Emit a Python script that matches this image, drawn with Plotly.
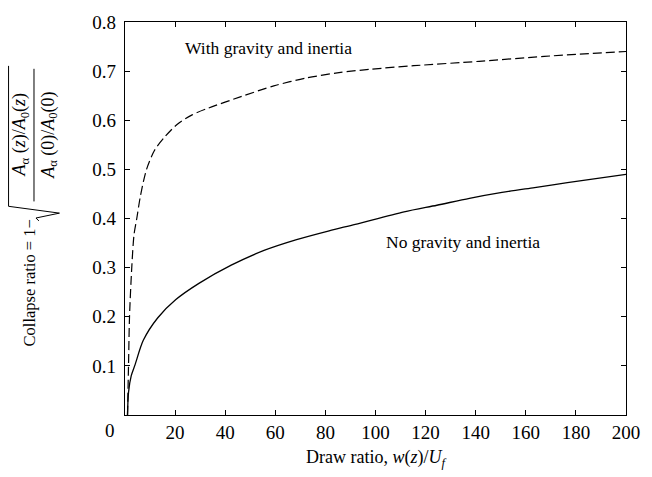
import plotly.graph_objects as go

# ---- data ----
draw_ratio_grav = [1.0, 1.4, 1.8, 2.7, 3.6, 4.7, 6.2, 8.6, 11.8, 15.7, 20.9, 26.8, 33.4,
                   46.3, 59.4, 72.4, 85.4, 98.4, 115.3, 141.4, 167.4, 200.0]
collapse_grav = [0.0, 0.100, 0.200, 0.300, 0.367, 0.400, 0.447, 0.500, 0.539, 0.565, 0.592,
                 0.611, 0.625, 0.648, 0.670, 0.686, 0.697, 0.704, 0.711, 0.720, 0.730, 0.740]

draw_ratio_nograv = [1.0, 1.4, 2.5, 4.0, 7.3, 13.1, 20.3, 29.5, 42.4, 55.5, 68.5, 81.5,
                     91.9, 111.4, 124.5, 137.5, 150.5, 163.5, 176.6, 200.0]
collapse_nograv = [0.0, 0.046, 0.080, 0.102, 0.152, 0.198, 0.235, 0.268, 0.305, 0.335,
                   0.357, 0.375, 0.388, 0.4135, 0.427, 0.441, 0.453, 0.463, 0.473, 0.490]

x_tickvals = [0, 20, 40, 60, 80, 100, 120, 140, 160, 180, 200]
x_ticktext = ["", "20", "40", "60", "80", "100", "120", "140", "160", "180", "200"]
y_tickvals = [0.1, 0.2, 0.3, 0.4, 0.5, 0.6, 0.7, 0.8]
y_ticktext = ["0.1", "0.2", "0.3", "0.4", "0.5", "0.6", "0.7", "0.8"]

label_grav = "With gravity and inertia"
label_nograv = "No gravity and inertia"

FONT = "Liberation Serif"
W, H = 652, 477
ML, MR, MT, MB = 125, 15, 12, 62
PW, PH = W - ML - MR, H - MT - MB


def px(xpix):
    return (xpix - ML) / PW


def py(ypix):
    return (H - MB - ypix) / PH


fig = go.Figure()
fig.add_trace(go.Scatter(x=draw_ratio_grav, y=collapse_grav, mode="lines",
                         line=dict(color="black", width=1.2, dash="9px,4px",
                                   shape="spline", smoothing=0.8),
                         showlegend=False, hoverinfo="skip"))
fig.add_trace(go.Scatter(x=draw_ratio_nograv, y=collapse_nograv, mode="lines",
                         line=dict(color="black", width=1.3, shape="spline", smoothing=0.8),
                         showlegend=False, hoverinfo="skip"))

axis_common = dict(showgrid=False, zeroline=False, showline=True, linecolor="black",
                   linewidth=1.2, mirror="ticks", ticks="inside", ticklen=5,
                   tickcolor="black", tickwidth=1,
                   tickfont=dict(family=FONT, size=19, color="black"))

fig.update_layout(
    width=W, height=H,
    margin=dict(l=ML, r=MR, t=MT, b=MB),
    paper_bgcolor="white", plot_bgcolor="white",
    xaxis=dict(range=[0, 200], tickmode="array", tickvals=x_tickvals, ticktext=x_ticktext,
               title=dict(text="Draw ratio, <i>w</i>(<i>z</i>)/<i>U<sub>f</sub></i>",
                          font=dict(family=FONT, size=18, color="black"), standoff=8),
               **axis_common),
    yaxis=dict(range=[0, 0.8], tickmode="array", tickvals=y_tickvals, ticktext=y_ticktext,
               ticklabelstandoff=4, **axis_common),
)

ann = []
# corner "0"
ann.append(dict(x=px(110), y=py(431), xref="paper", yref="paper", text="0", showarrow=False,
                font=dict(family=FONT, size=19, color="black"), xanchor="center", yanchor="middle"))
# curve labels
ann.append(dict(x=px(272), y=py(39), xref="paper", yref="paper", text=label_grav, showarrow=False,
                font=dict(family=FONT, size=17.5, color="black"), xanchor="center", yanchor="middle"))
ann.append(dict(x=px(470), y=py(238), xref="paper", yref="paper", text=label_nograv, showarrow=False,
                font=dict(family=FONT, size=17.5, color="black"), xanchor="center", yanchor="middle"))
# y-axis title built from pieces
yt_font = dict(family=FONT, size=16.5, color="black")
fr_font = dict(family=FONT, size=18, color="black")
ann.append(dict(x=px(27), y=py(280), xref="paper", yref="paper", text="Collapse ratio = 1\u2212",
                textangle=-90, showarrow=False, font=yt_font, xanchor="center", yanchor="middle"))
ann.append(dict(x=px(18), y=py(128), xref="paper", yref="paper",
                text="<i>A</i><sub>\u03b1</sub> (<i>z</i>)/<i>A</i><sub>0</sub>(<i>z</i>)",
                textangle=-90, showarrow=False, font=fr_font, xanchor="center", yanchor="middle"))
ann.append(dict(x=px(47), y=py(128), xref="paper", yref="paper",
                text="<i>A</i><sub>\u03b1</sub> (0)/<i>A</i><sub>0</sub>(0)",
                textangle=-90, showarrow=False, font=fr_font, xanchor="center", yanchor="middle"))
fig.update_layout(annotations=ann)

# fraction bar and radical sign
fig.add_shape(type="line", xref="paper", yref="paper", x0=px(32), x1=px(32), y0=py(196), y1=py(60),
              line=dict(color="black", width=1))
rad = [(37, 216), (34, 213), (58, 208), (6, 201), (6, 57)]
path = "M " + " L ".join(f"{px(a):.5f},{py(b):.5f}" for a, b in rad)
fig.add_shape(type="path", xref="paper", yref="paper", path=path,
              line=dict(color="black", width=1))

fig.write_html("out.html")
